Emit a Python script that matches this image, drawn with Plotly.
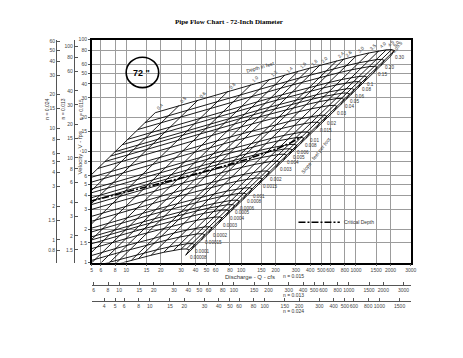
import numpy as np
import plotly.graph_objects as go

# ---------------- data ----------------
PIPE_DIAMETER_FT = 6.0
MANNING_N = 0.015
N_ALT_013 = 0.013
N_ALT_024 = 0.024
G = 32.2

DEPTHS = [0.4, 0.5, 0.6, 0.8, 1.0, 1.2, 1.4, 1.6, 1.8, 2.0, 2.4, 2.6, 3.0, 3.5, 4.0, 4.5, 5.0, 5.5, 6.0]
DEPTH_LABELS = ["0.4", "0.5", "0.6", "0.8", "1.0", "1.2", "1.4", "1.6", "1.8", "2.0", "2.4", "2.6",
                "3.0", "3.5", "4.0", "4.5", "5.0", "5.5", "6.0"]
SLOPES = [0.00008, 0.0001, 0.00015, 0.0002, 0.0003, 0.0004, 0.0005, 0.0006, 0.0008, 0.001, 0.0015,
          0.002, 0.003, 0.004, 0.005, 0.006, 0.008, 0.01, 0.015, 0.02, 0.03, 0.04, 0.05, 0.06, 0.08,
          0.1, 0.15, 0.20, 0.30]
SLOPE_LABELS = ["0.00008", "0.0001", "0.00015", "0.0002", "0.0003", "0.0004", "0.0005", "0.0006",
                "0.0008", "0.001", "0.0015", "0.002", "0.003", "0.004", "0.005", "0.006", "0.008",
                "0.01", "0.015", "0.02", "0.03", "0.04", "0.05", "0.06", "0.08", "0.1", "0.15",
                "0.20", "0.30"]
CRIT_DEPTHS = [0.5, 0.6, 0.8, 1.0, 1.2, 1.4, 1.6, 1.8, 2.0, 2.4, 2.6, 3.0, 3.5, 4.0, 4.5, 5.0]

Q_TICKS = [5, 6, 8, 10, 15, 20, 30, 40, 50, 60, 80, 100, 150, 200, 300, 400, 500, 600, 800,
           1000, 1500, 2000, 3000]
Q_TICKS_013 = [6, 8, 10, 15, 20, 30, 40, 50, 60, 80, 100, 150, 200, 300, 400, 500, 600, 800,
               1000, 1500, 2000, 3000]
Q_TICKS_024 = [4, 5, 6, 8, 10, 15, 20, 30, 40, 50, 60, 80, 100, 150, 200, 300, 400, 500, 600,
               800, 1000, 1500]
V_TICKS = [1, 1.5, 2, 3, 4, 5, 6, 8, 10, 15, 20, 30, 40, 50, 60, 80, 100]
V_TICKS_013 = [1.5, 2, 3, 4, 6, 8, 10, 15, 20, 30, 40, 60, 80, 100]
V_TICKS_024 = [0.8, 1, 1.5, 2, 3, 4, 5, 6, 8, 10, 15, 20, 30, 40, 50, 60]

Q_RANGE = [5, 3000]
V_RANGE = [1, 100]


# ---------------- hydraulics (Manning) ----------------
def section(d):
    D = PIPE_DIAMETER_FT
    th = 2 * np.arccos(1 - 2 * d / D)
    A = D ** 2 / 8 * (th - np.sin(th))
    P = D * th / 2
    T = D * np.sin(th / 2)
    return A, P, T


def flow(d, s):
    A, P, _ = section(d)
    R = A / P
    V = 1.49 / MANNING_N * R ** (2 / 3) * np.sqrt(s)
    return V * A, V


def tick_text(vals):
    return [("%g" % v) for v in vals]


# page has an 8px body margin: the figure is shifted by (8, 8)
OX, OY = 8, 8
W, H = 463 - OX, 358 - OY


def px(x):
    return (x - OX) / W


def py(y):
    return 1 - (y - OY) / H


xdom = [px(92), px(416)]
ydom = [py(264), py(37)]

f013 = MANNING_N / N_ALT_013
f024 = MANNING_N / N_ALT_024

fig = go.Figure()
LINE = dict(color="black", width=0.9)

# constant-depth lines
for d in DEPTHS:
    q0, v0 = flow(d, SLOPES[0])
    q1, v1 = flow(d, SLOPES[-1])
    fig.add_trace(go.Scatter(x=[q0, q1], y=[v0, v1], mode="lines", line=LINE,
                             hoverinfo="skip", showlegend=False))
# constant-slope lines
for s in SLOPES:
    qs, vs = zip(*[flow(d, s) for d in DEPTHS])
    fig.add_trace(go.Scatter(x=list(qs), y=list(vs), mode="lines", line=LINE,
                             hoverinfo="skip", showlegend=False))
# critical depth
cq, cv = [], []
for d in CRIT_DEPTHS:
    A, _, T = section(d)
    vc = np.sqrt(G * A / T)
    cq.append(vc * A)
    cv.append(vc)
fig.add_trace(go.Scatter(x=cq, y=cv, mode="lines",
                         line=dict(color="black", width=1.6, dash="7px,2px,2px,2px"),
                         hoverinfo="skip", showlegend=False))

# invisible traces to bind auxiliary axes
fig.add_trace(go.Scatter(x=[Q_RANGE[0] * f013, Q_RANGE[1] * f013], y=[2, 2], xaxis="x2", yaxis="y",
                         mode="markers", marker=dict(opacity=0), hoverinfo="skip", showlegend=False))
fig.add_trace(go.Scatter(x=[Q_RANGE[0] * f024, Q_RANGE[1] * f024], y=[2, 2], xaxis="x3", yaxis="y",
                         mode="markers", marker=dict(opacity=0), hoverinfo="skip", showlegend=False))
fig.add_trace(go.Scatter(x=[10, 10], y=[V_RANGE[0] * f013, V_RANGE[1] * f013], xaxis="x", yaxis="y2",
                         mode="markers", marker=dict(opacity=0), hoverinfo="skip", showlegend=False))
fig.add_trace(go.Scatter(x=[10, 10], y=[V_RANGE[0] * f024, V_RANGE[1] * f024], xaxis="x", yaxis="y3",
                         mode="markers", marker=dict(opacity=0), hoverinfo="skip", showlegend=False))

TF = dict(family="Liberation Sans, Arial, sans-serif", size=5, color="#444")
GRID = "#9c9c9c"

fig.update_layout(
    width=W, height=H, margin=dict(l=0, r=0, t=0, b=0),
    paper_bgcolor="white", plot_bgcolor="white",
    showlegend=False,
    xaxis=dict(type="log", range=[np.log10(Q_RANGE[0]), np.log10(Q_RANGE[1])], domain=xdom,
               tickvals=Q_TICKS, ticktext=tick_text(Q_TICKS), tickfont=TF, tickangle=0,
               showgrid=True, gridcolor=GRID, gridwidth=1,
               showline=True, linecolor="black", linewidth=1.5, mirror=True,
               ticks="outside", ticklen=2, tickcolor="#555", zeroline=False, anchor="y"),
    yaxis=dict(type="log", range=[np.log10(V_RANGE[0]), np.log10(V_RANGE[1])], domain=ydom,
               tickvals=V_TICKS, ticktext=tick_text(V_TICKS), tickfont=TF, tickangle=0,
               showgrid=True, gridcolor=GRID, gridwidth=1,
               showline=True, linecolor="black", linewidth=1.5, mirror=True,
               ticks="outside", ticklen=2, tickcolor="#555", zeroline=False, anchor="x"),
    xaxis2=dict(type="log", overlaying="x", anchor="free", position=py(287), side="bottom",
                range=[np.log10(Q_RANGE[0] * f013), np.log10(Q_RANGE[1] * f013)],
                tickvals=Q_TICKS_013, ticktext=tick_text(Q_TICKS_013), tickfont=TF, tickangle=0,
                showgrid=False, showline=True, linecolor="#555", linewidth=1.3,
                ticks="inside", ticklen=3, tickcolor="#555", zeroline=False),
    xaxis3=dict(type="log", overlaying="x", anchor="free", position=py(303), side="bottom",
                range=[np.log10(Q_RANGE[0] * f024), np.log10(Q_RANGE[1] * f024)],
                tickvals=Q_TICKS_024, ticktext=tick_text(Q_TICKS_024), tickfont=TF, tickangle=0,
                showgrid=False, showline=True, linecolor="#555", linewidth=1.3,
                ticks="inside", ticklen=3, tickcolor="#555", zeroline=False),
    yaxis2=dict(type="log", overlaying="y", anchor="free", position=px(74), side="left",
                range=[np.log10(V_RANGE[0] * f013), np.log10(V_RANGE[1] * f013)],
                tickvals=V_TICKS_013, ticktext=tick_text(V_TICKS_013), tickfont=TF, tickangle=0,
                showgrid=False, showline=True, linecolor="#555", linewidth=1.3,
                ticks="inside", ticklen=3, tickcolor="#555", zeroline=False),
    yaxis3=dict(type="log", overlaying="y", anchor="free", position=px(56), side="left",
                range=[np.log10(V_RANGE[0] * f024), np.log10(V_RANGE[1] * f024)],
                tickvals=V_TICKS_024, ticktext=tick_text(V_TICKS_024), tickfont=TF, tickangle=0,
                showgrid=False, showline=True, linecolor="#555", linewidth=1.3,
                ticks="inside", ticklen=3, tickcolor="#555", zeroline=False),
)

ann = []
SMALL = dict(family="Liberation Sans, Arial, sans-serif", size=4.6, color="#333")
# depth labels at upper ends
for d, lab in zip(DEPTHS, DEPTH_LABELS):
    q, v = flow(d, SLOPES[-1])
    ann.append(dict(x=np.log10(q), y=np.log10(v), xref="x", yref="y", text=lab, showarrow=False,
                    textangle=-45, xshift=5, yshift=6, font=SMALL))
# slope labels at full-pipe ends
for s, lab in zip(SLOPES, SLOPE_LABELS):
    q, v = flow(PIPE_DIAMETER_FT, s)
    ann.append(dict(x=np.log10(q), y=np.log10(v), xref="x", yref="y", text=lab, showarrow=False,
                    xanchor="left", xshift=2, yshift=-2, font=SMALL))


def pt(x, y, text, size=5, angle=0, bold=False, family="Liberation Sans, Arial, sans-serif",
       xanchor="center", color="#333"):
    t = "<b>%s</b>" % text if bold else text
    ann.append(dict(x=px(x), y=py(y), xref="paper", yref="paper", text=t, showarrow=False,
                    textangle=angle, xanchor=xanchor, yanchor="middle",
                    font=dict(family=family, size=size, color=color)))


pt(231, 19, "Pipe Flow Chart - 72-Inch Diameter", size=7, bold=True,
   family="Liberation Serif, Times New Roman, serif", color="black")
pt(143, 71, "72 \"", size=9, bold=True, color="black")
pt(263, 65, "Depth in feet", size=5, angle=-16)
pt(320, 155, "Slope - feet per foot", size=5, angle=-52)
pt(346, 223, "Critical Depth", size=5, xanchor="left")
pt(253, 279, "Discharge - Q - cfs", size=6)
pt(284, 278, "n = 0.015", size=5, xanchor="left")
pt(284, 297, "n = 0.013", size=5, xanchor="left")
pt(284, 313, "n = 0.024", size=5, xanchor="left")
pt(80, 152, "Velocity - V - fps", size=6, angle=-90)
pt(81, 108, "n = 0.015", size=5, angle=-90)
pt(63, 108, "n = 0.013", size=5, angle=-90)
pt(47, 108, "n = 0.024", size=5, angle=-90)

fig.update_layout(annotations=ann)

fig.update_layout(shapes=[
    dict(type="circle", xref="paper", yref="paper", x0=px(127), x1=px(160),
         y0=py(86), y1=py(55), line=dict(color="black", width=1.6)),
    dict(type="line", xref="paper", yref="paper", x0=px(302), x1=px(344),
         y0=py(223), y1=py(223),
         line=dict(color="black", width=1.5, dash="7px,2px,2px,2px")),
])

fig.write_html("out.html")
